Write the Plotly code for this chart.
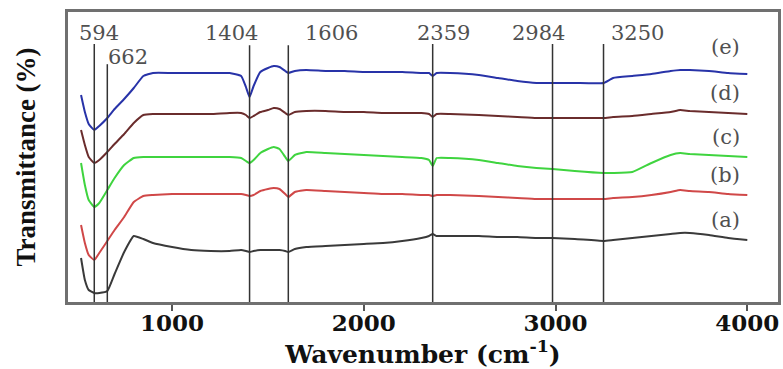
import plotly.graph_objects as go

wavenumber = [525, 545, 565, 594, 620, 662, 700, 750, 800, 850,
              900, 1000, 1100, 1200, 1300, 1360, 1385, 1404, 1425, 1460,
              1500, 1530, 1560, 1590, 1606, 1640, 1700, 1800, 1900, 2000,
              2100, 2200, 2300, 2340, 2359, 2380, 2450, 2600, 2700, 2800,
              2900, 2984, 3100, 3250, 3300, 3400, 3500, 3600, 3650, 3700,
              3800, 3900, 4000]

series_e = [207, 190, 178, 172, 176, 184, 193, 203, 214, 226,
            229, 229, 229, 229, 229, 226, 215, 205, 216, 230,
            234, 236, 235, 231, 229, 231, 232, 231, 231, 230,
            230, 230, 229, 229, 226, 229, 229, 227, 224, 221,
            219, 219, 219, 219, 224, 226, 228, 231, 232, 232,
            231, 229, 228]
series_d = [172, 157, 145, 139, 142, 150, 158, 168, 179, 187,
            188, 188, 188, 188, 189, 189, 187, 184, 186, 190,
            192, 194, 193, 189, 187, 190, 191, 191, 190, 190,
            189, 189, 189, 188, 185, 188, 188, 187, 186, 185,
            184, 184, 184, 184, 185, 186, 188, 190, 192, 191,
            190, 189, 188]
series_c = [139, 117, 102, 95, 99, 112, 124, 137, 144, 145,
            145, 145, 145, 145, 145, 144, 141, 139, 142, 149,
            153, 155, 153, 145, 141, 147, 150, 149, 148, 147,
            146, 145, 144, 142, 136, 144, 144, 142, 139, 136,
            134, 133, 131, 129, 129, 130, 139, 147, 149, 148,
            147, 146, 145]
series_b = [77, 59, 47, 42, 49, 61, 72, 85, 100, 106,
            107, 108, 108, 108, 108, 108, 107, 106, 107, 111,
            113, 114, 113, 108, 105, 110, 112, 111, 110, 109,
            108, 108, 107, 107, 106, 107, 107, 106, 105, 104,
            103, 103, 103, 103, 104, 105, 107, 110, 112, 111,
            110, 108, 107]
series_a = [44, 22, 12, 9, 9, 11, 28, 50, 66, 63,
            59, 55, 52, 51, 51, 52, 51, 50, 51, 52,
            52, 52, 52, 51, 50, 53, 55, 56, 57, 58,
            59, 61, 64, 66, 68, 66, 66, 66, 65, 65,
            64, 64, 63, 61, 62, 64, 66, 68, 69, 69,
            67, 64, 62]

series_names = ["(a)", "(b)", "(c)", "(d)", "(e)"]
series_list = [series_a, series_b, series_c, series_d, series_e]
series_colors = ["#3a3a3a", "#d04848", "#3fd43f", "#6a2c2c", "#2833a8"]
label_levels = [82, 127, 165, 209, 255]

peaks = [594, 662, 1404, 1606, 2359, 2984, 3250]
peak_labels = ["594", "662", "1404", "1606", "2359", "2984", "3250"]

fig = go.Figure()
for name, ys, col in zip(series_names, series_list, series_colors):
    fig.add_trace(go.Scatter(x=wavenumber, y=ys, mode="lines", name=name,
                             line=dict(color=col, width=2, shape="spline", smoothing=0.4),
                             showlegend=False))

# vertical peak lines and labels
line_tops = [0.89, 0.82, 0.885, 0.885, 0.89, 0.89, 0.89]
label_shift = [(5, 0), (21, -24), (-18, 0), (43, 0), (11, 0), (-14, 0), (34, 0)]
for p, lab, top, (dx, dy) in zip(peaks, peak_labels, line_tops, label_shift):
    fig.add_shape(type="line", x0=p, x1=p, xref="x", yref="paper", y0=0, y1=top,
                  line=dict(color="#333333", width=1.5))
    fig.add_annotation(x=p, y=1.0, xref="x", yref="paper", text=lab, showarrow=False,
                       xshift=dx, yshift=-21 + dy, yanchor="middle",
                       font=dict(family="DejaVu Serif", size=21, color="#505050"))

for name, lvl in zip(series_names, label_levels):
    fig.add_annotation(x=0.949, y=lvl, xref="paper", yref="y", text=name, showarrow=False,
                       font=dict(family="DejaVu Serif", size=21, color="#505050"))

fig.update_layout(
    width=783, height=369,
    margin=dict(l=68, r=5, t=12, b=67, autoexpand=False),
    paper_bgcolor="white", plot_bgcolor="white",
    xaxis=dict(range=[457, 4160], tickvals=[1000, 2000, 3000, 4000],
               ticks="outside", ticklen=6, tickwidth=2, tickcolor="#555555",
               ticklabelstandoff=-7,
               showline=True, linecolor="#707070", linewidth=2.5, mirror=True,
               showgrid=False, zeroline=False, automargin=False,
               tickfont=dict(family="DejaVu Serif", size=23, color="#111111", weight="bold"),
               title=dict(text="Wavenumber (cm<sup>-1</sup>)", standoff=9,
                          font=dict(family="DejaVu Serif", size=25, color="#111111", weight="bold"))),
    yaxis=dict(range=[0, 290], showticklabels=False, ticks="",
               showline=True, linecolor="#707070", linewidth=2.5, mirror=True,
               showgrid=False, zeroline=False, automargin=False,
               title=dict(text="Transmittance (%)", standoff=22,
                          font=dict(family="Liberation Serif", size=27, color="#111111", weight="bold"))),
)

fig.write_html("out.html", config={"displayModeBar": False},
               post_script="document.body.style.margin='0';document.body.style.overflow='hidden';")
